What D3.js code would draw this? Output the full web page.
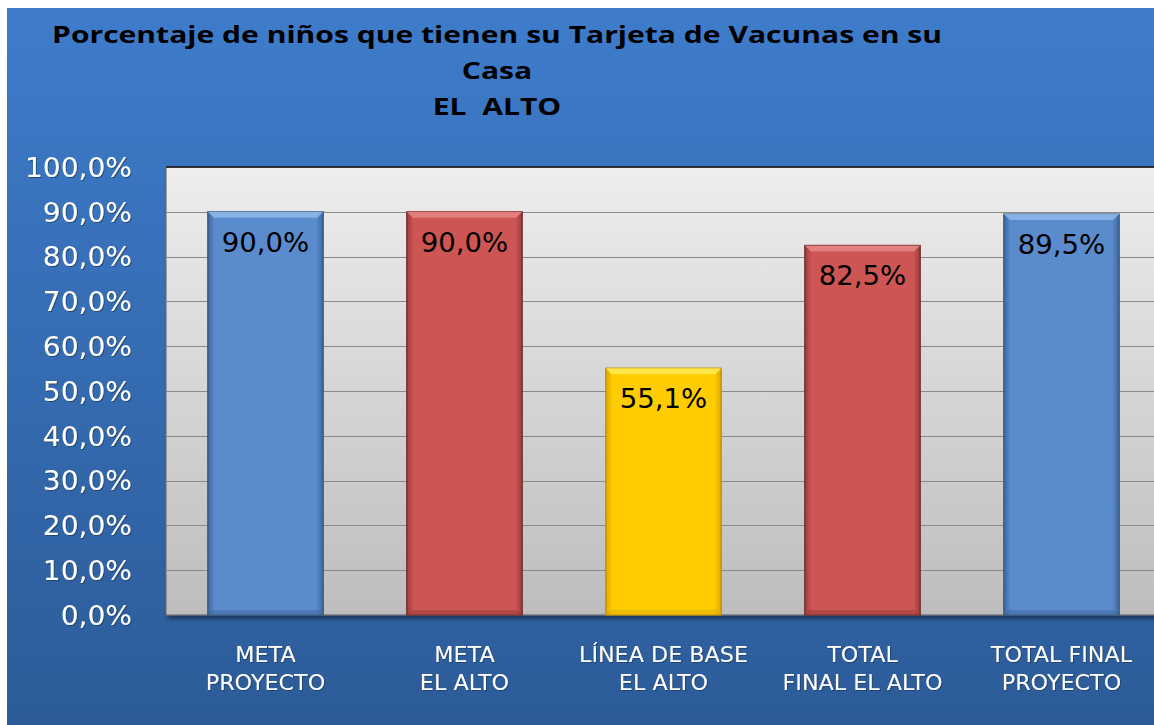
<!DOCTYPE html>
<html><head><meta charset="utf-8">
<script src="https://cdn.jsdelivr.net/npm/d3@7"></script>
<style>
html,body{margin:0;padding:0;background:#fff;}
svg{display:block;}
text{white-space:pre;}
</style></head>
<body>
<svg id="chart" width="1154" height="725"></svg>
<script>
// ---- data ----
const categories = ["META PROYECTO", "META EL ALTO", "LÍNEA DE BASE EL ALTO", "TOTAL FINAL EL ALTO", "TOTAL FINAL PROYECTO"];
const categoryLines = [["META", "PROYECTO"], ["META", "EL ALTO"], ["LÍNEA DE BASE", "EL ALTO"], ["TOTAL", "FINAL EL ALTO"], ["TOTAL FINAL", "PROYECTO"]];
const values = [0.900, 0.900, 0.551, 0.825, 0.895];
const barColorKeys = ["blue", "red", "yellow", "red", "blue"];
const yTicks = [0, 0.1, 0.2, 0.3, 0.4, 0.5, 0.6, 0.7, 0.8, 0.9, 1.0];
const titleLines = ["Porcentaje de niños que tienen su Tarjeta de Vacunas en su", "Casa", "EL  ALTO"];

const palette = {
  blue:   {main: "#5A8BCC", edge: "#3D679E", light: "#8DB6EA", stroke: "#34557F"},
  red:    {main: "#CD5654", edge: "#9A3C3A", light: "#E48583", stroke: "#6E2826"},
  yellow: {main: "#FFCC00", edge: "#E0A800", light: "#FFEA50", stroke: "#B98E00"}
};

const svg = d3.select("#chart");
const defs = svg.append("defs");

// layout
const plot = {left: 166, right: 1161, top: 167, bottom: 615};

// background gradient
const bg = defs.append("linearGradient").attr("id", "bg").attr("x1", 0).attr("y1", 0).attr("x2", 0).attr("y2", 1);
bg.append("stop").attr("offset", "0%").attr("stop-color", "#3E7CCB");
bg.append("stop").attr("offset", "100%").attr("stop-color", "#2C5B98");
const pg = defs.append("linearGradient").attr("id", "pg").attr("x1", 0).attr("y1", 0).attr("x2", 0).attr("y2", 1);
pg.append("stop").attr("offset", "0%").attr("stop-color", "#EEEEEE");
pg.append("stop").attr("offset", "100%").attr("stop-color", "#BDBDBD");
const sh = defs.append("filter").attr("id", "shadow").attr("x", "-5%").attr("y", "-5%").attr("width", "115%").attr("height", "120%");
sh.append("feDropShadow").attr("dx", 2).attr("dy", 3).attr("stdDeviation", 2).attr("flood-color", "#000").attr("flood-opacity", 0.45);
const tsh = defs.append("filter").attr("id", "tshadow");
tsh.append("feDropShadow").attr("dx", 1).attr("dy", 1).attr("stdDeviation", 0.6).attr("flood-color", "#1d3d66").attr("flood-opacity", 0.8);

Object.entries(palette).forEach(([k, c]) => {
  const g = defs.append("linearGradient").attr("id", "bar-" + k).attr("x1", 0).attr("y1", 0).attr("x2", 1).attr("y2", 0);
  g.append("stop").attr("offset", "0%").attr("stop-color", c.edge);
  g.append("stop").attr("offset", "6%").attr("stop-color", c.main);
  g.append("stop").attr("offset", "94%").attr("stop-color", c.main);
  g.append("stop").attr("offset", "100%").attr("stop-color", c.edge);
});

svg.append("rect").attr("x", 7).attr("y", 8).attr("width", 1154 - 7).attr("height", 725 - 8).attr("fill", "url(#bg)");

// scales
const x = d3.scaleBand().domain(categories).range([plot.left, plot.right]).paddingInner(0.42).paddingOuter(0.21);
const y = d3.scaleLinear().domain([0, 1]).range([plot.bottom, plot.top]);

// plot area
svg.append("rect").attr("x", plot.left).attr("y", plot.top).attr("width", plot.right - plot.left).attr("height", plot.bottom - plot.top)
  .attr("fill", "url(#pg)").attr("stroke", "#6f6f6f").attr("stroke-width", 1.2).attr("filter", "url(#shadow)");
svg.append("line").attr("x1", plot.left).attr("x2", plot.right).attr("y1", plot.top).attr("y2", plot.top).attr("stroke", "#111").attr("stroke-width", 1.5);

// gridlines
svg.append("g").selectAll("line").data(yTicks.filter(t => t > 0 && t < 1)).join("line")
  .attr("x1", plot.left).attr("x2", plot.right)
  .attr("y1", d => Math.round(y(d)) + 0.5).attr("y2", d => Math.round(y(d)) + 0.5)
  .attr("stroke", "#8a8a8a").attr("stroke-width", 1);

// helper: horizontal stretch
function stretch(sel, k) {
  sel.each(function () {
    const len = this.getComputedTextLength();
    d3.select(this).attr("textLength", len * k).attr("lengthAdjust", "spacingAndGlyphs");
  });
}

const fmt = v => d3.format(".1f")(v * 100).replace(".", ",") + "%";

// y axis labels
const yAxis = d3.axisLeft(y).tickValues(yTicks).tickFormat(fmt).tickSize(0).tickPadding(0);
const yg = svg.append("g").attr("transform", "translate(132,0)").call(yAxis);
yg.select(".domain").remove();
yg.selectAll("text").attr("fill", "#fff").attr("font-family", "DejaVu Sans").attr("font-size", 26)
  .attr("dy", "0.36em").attr("filter", "url(#tshadow)");
stretch(yg.selectAll("text"), 1.08);

// bars
const bars = svg.append("g").selectAll("g").data(values).join("g");
bars.append("rect")
  .attr("x", (d, i) => x(categories[i]))
  .attr("y", d => y(d))
  .attr("width", x.bandwidth())
  .attr("height", d => y(0) - y(d))
  .attr("fill", (d, i) => "url(#bar-" + barColorKeys[i] + ")")
  .attr("stroke", (d, i) => palette[barColorKeys[i]].stroke)
  .attr("stroke-width", 1.2);
// top bevel
bars.append("path")
  .attr("d", (d, i) => {
    const x0 = x(categories[i]), x1 = x0 + x.bandwidth(), t = y(d), b = 6;
    return `M${x0},${t}L${x1},${t}L${x1 - b},${t + b}L${x0 + b},${t + b}Z`;
  })
  .attr("fill", (d, i) => palette[barColorKeys[i]].light).attr("opacity", 0.9);
// bottom bevel
bars.append("path")
  .attr("d", (d, i) => {
    const x0 = x(categories[i]), x1 = x0 + x.bandwidth(), t = y(0), b = 5;
    return `M${x0},${t}L${x1},${t}L${x1 - b},${t - b}L${x0 + b},${t - b}Z`;
  })
  .attr("fill", (d, i) => palette[barColorKeys[i]].edge).attr("opacity", 0.5);

// value labels
const vl = bars.append("text")
  .attr("x", (d, i) => x(categories[i]) + x.bandwidth() / 2)
  .attr("y", d => y(d) + 40)
  .attr("text-anchor", "middle")
  .attr("font-family", "DejaVu Sans").attr("font-size", 26).attr("fill", "#000")
  .text(d => fmt(d));
stretch(vl, 1.06);

// x labels
const xl = svg.append("g").selectAll("text").data(categories).join("text")
  .attr("text-anchor", "middle")
  .attr("font-family", "DejaVu Sans").attr("font-size", 21).attr("fill", "#fff")
  .attr("filter", "url(#tshadow)");
xl.each(function (c, i) {
  const t = d3.select(this);
  categoryLines[i].forEach((line, j) => {
    t.append("tspan").attr("x", x(c) + x.bandwidth() / 2).attr("y", 662 + j * 28).text(line);
  });
});
xl.selectAll("tspan").each(function () {
  const len = this.getComputedTextLength();
  d3.select(this).attr("textLength", len * 1.06).attr("lengthAdjust", "spacingAndGlyphs");
});

// title
const tg = svg.append("g").attr("font-family", "Open Sans").attr("font-weight", "bold").attr("font-size", 23).attr("fill", "#000");
const t1 = tg.append("text").attr("x", 52).attr("y", 43).text(titleLines[0]);
const natural = t1.node().getComputedTextLength();
const k = 890 / natural;
t1.attr("textLength", 890).attr("lengthAdjust", "spacingAndGlyphs");
[titleLines[1], titleLines[2]].forEach((s, i) => {
  const t = tg.append("text").attr("x", 497).attr("y", 79 + i * 36).attr("text-anchor", "middle").text(s);
  const len = t.node().getComputedTextLength();
  t.attr("textLength", len * k).attr("lengthAdjust", "spacingAndGlyphs");
});
</script>
</body></html>
